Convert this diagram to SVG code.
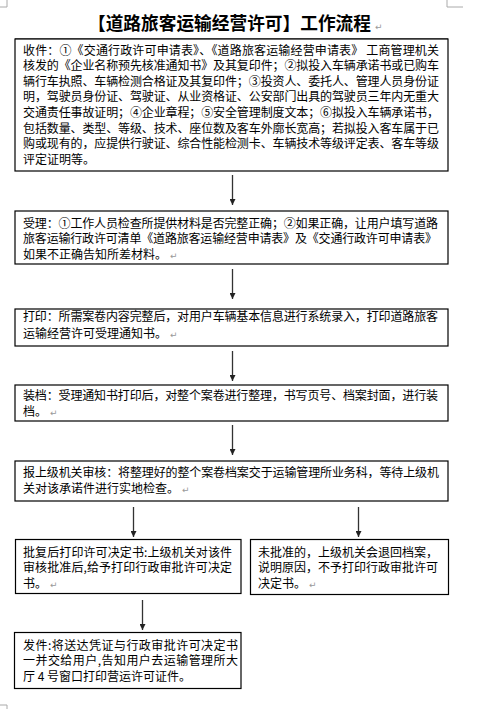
<svg xmlns="http://www.w3.org/2000/svg" width="496" height="709" viewBox="0 0 496 709">
<style>
.t{font-family:"Noto Sans CJK SC","Liberation Sans",sans-serif;font-size:12px;fill:#000}
.ttl{font-family:"Noto Sans CJK SC","Liberation Sans",sans-serif;font-size:18px;font-weight:bold;fill:#000}
.pm{font-family:"DejaVu Sans",sans-serif;font-size:9px;fill:#999}
.box{fill:#fff;stroke:#000;stroke-width:1.2}
.conn{stroke:#333;stroke-width:1.3;fill:none;marker-end:url(#ah)}
.crop{stroke:#aaa;stroke-width:1;fill:none}
</style>
<defs>
<marker id="ah" viewBox="0 0 8 8" refX="8" refY="4" markerWidth="6" markerHeight="6" markerUnits="userSpaceOnUse" orient="auto">
<path d="M0,0 L8,4 L0,8 z" fill="#222"/>
</marker>
</defs>
<rect width="496" height="709" fill="#fff"/>
<path class="crop" d="M7,0 V7 H0 M447,0 V7 H463 M0,705 H7 V709"/>
<g id="title">
<text class="ttl" x="88" y="29.5" textLength="283" lengthAdjust="spacingAndGlyphs">【道路旅客运输经营许可】工作流程</text>
<text class="pm" x="375" y="30">↵</text>
<line x1="15" y1="39" x2="448" y2="39" stroke="#000" stroke-width="1.2"/>
</g>
<g id="connectors">
<line class="conn" x1="232.5" y1="175" x2="232.5" y2="205"/>
<line class="conn" x1="232.5" y1="269" x2="232.5" y2="299"/>
<line class="conn" x1="232.5" y1="351" x2="232.5" y2="381"/>
<line class="conn" x1="232.5" y1="425" x2="232.5" y2="455"/>
<line class="conn" x1="133.5" y1="507" x2="133.5" y2="537"/>
<line class="conn" x1="358.5" y1="507" x2="358.5" y2="537"/>
<line class="conn" x1="142.5" y1="600" x2="142.5" y2="630"/>
</g>
<g id="n1">
<rect class="box" x="15" y="39" width="433" height="132"/>
<text class="t" x="23" y="54.5" textLength="416" lengthAdjust="spacing">收件：①《交通行政许可申请表》、《道路旅客运输经营申请表》 工商管理机关</text>
<text class="t" x="23" y="70.1" textLength="416" lengthAdjust="spacing">核发的《企业名称预先核准通知书》及其复印件；②拟投入车辆承诺书或已购车</text>
<text class="t" x="23" y="85.7" textLength="416" lengthAdjust="spacing">辆行车执照、车辆检测合格证及其复印件；③投资人、委托人、管理人员身份证</text>
<text class="t" x="23" y="101.3" textLength="416" lengthAdjust="spacing">明，驾驶员身份证、驾驶证、从业资格证、公安部门出具的驾驶员三年内无重大</text>
<text class="t" x="23" y="116.9" textLength="416" lengthAdjust="spacing">交通责任事故证明；④企业章程；⑤安全管理制度文本；⑥拟投入车辆承诺书，</text>
<text class="t" x="23" y="132.5" textLength="416" lengthAdjust="spacing">包括数量、类型、等级、技术、座位数及客车外廓长宽高；若拟投入客车属于已</text>
<text class="t" x="23" y="148.1" textLength="416" lengthAdjust="spacing">购或现有的，应提供行驶证、综合性能检测卡、车辆技术等级评定表、客车等级</text>
<text class="t" x="23" y="163.7">评定证明等。</text>
</g>
<g id="n2">
<rect class="box" x="15" y="211" width="433" height="53"/>
<text class="t" x="23" y="227.8" textLength="415" lengthAdjust="spacing">受理：①工作人员检查所提供材料是否完整正确；②如果正确，让用户填写道路</text>
<text class="t" x="23" y="243.4" textLength="414" lengthAdjust="spacing">旅客运输行政许可清单《道路旅客运输经营申请表》及《交通行政许可申请表》</text>
<text class="t" x="23" y="259">如果不正确告知所差材料。<tspan class="pm" dx="3">↵</tspan></text>
</g>
<g id="n3">
<rect class="box" x="15" y="309" width="433" height="37"/>
<text class="t" x="23" y="321.3" textLength="415" lengthAdjust="spacing">打印：所需案卷内容完整后，对用户车辆基本信息进行系统录入，打印道路旅客</text>
<text class="t" x="23" y="337.8">运输经营许可受理通知书。<tspan class="pm" dx="3">↵</tspan></text>
</g>
<g id="n4">
<rect class="box" x="15" y="385" width="433" height="36"/>
<text class="t" x="23" y="400" textLength="415" lengthAdjust="spacing">装档：受理通知书打印后，对整个案卷进行整理，书写页号、档案封面，进行装</text>
<text class="t" x="23" y="416">档。<tspan class="pm" dx="3">↵</tspan></text>
</g>
<g id="n5">
<rect class="box" x="15" y="461" width="433" height="40"/>
<text class="t" x="23" y="477.2" textLength="416" lengthAdjust="spacing">报上级机关审核：将整理好的整个案卷档案交于运输管理所业务科，等待上级机</text>
<text class="t" x="23" y="492.8">关对该承诺件进行实地检查。<tspan class="pm" dx="3">↵</tspan></text>
</g>
<g id="n6">
<rect class="box" x="15.5" y="539.5" width="225.5" height="54"/>
<text class="t" x="23" y="556.6" textLength="209" lengthAdjust="spacing">批复后打印许可决定书:上级机关对该件</text>
<text class="t" x="23" y="572.2" textLength="209" lengthAdjust="spacing">审核批准后,给予打印行政审批许可决定</text>
<text class="t" x="23" y="587.8">书。<tspan class="pm" dx="3">↵</tspan></text>
</g>
<g id="n7">
<rect class="box" x="250.5" y="539.5" width="198" height="55"/>
<text class="t" x="258" y="556.6">未批准的，上级机关会退回档案，</text>
<text class="t" x="258" y="572.2">说明原因，不予打印行政审批许可</text>
<text class="t" x="258" y="587.8">决定书。<tspan class="pm" dx="3">↵</tspan></text>
</g>
<g id="n8">
<rect class="box" x="14.5" y="632.5" width="226.5" height="56"/>
<text class="t" x="23" y="649.5" textLength="215" lengthAdjust="spacing">发件:将送达凭证与行政审批许可决定书</text>
<text class="t" x="23" y="665.1" textLength="215" lengthAdjust="spacing">一并交给用户,告知用户去运输管理所大</text>
<text class="t" x="23" y="680.7">厅 4 号窗口打印营运许可证件。</text>
</g>
</svg>
